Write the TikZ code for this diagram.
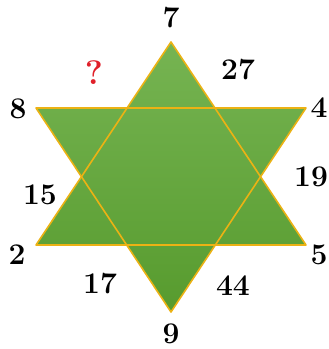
\documentclass[tikz,border=0pt]{standalone}
\usepackage{tikz}
\definecolor{leaftop}{HTML}{76B452}
\definecolor{leafbot}{HTML}{579B2E}
\definecolor{gold}{HTML}{ECB214}
\definecolor{qred}{HTML}{E0202A}
\tikzset{num/.style={font=\fontsize{30}{30}\selectfont\bfseries},
  qmark/.style={font=\fontsize{34}{34}\selectfont\bfseries,text=qred}}
\begin{document}
\begin{tikzpicture}[x=1pt,y=1pt]
  \useasboundingbox (0,0) rectangle (329,349);
  % vertices of the two triangles
  \coordinate (up) at (171,307);
  \coordinate (bl) at (36,104);
  \coordinate (br) at (306,104);
  \coordinate (tl) at (36,241);
  \coordinate (tr) at (306,241);
  \coordinate (dn) at (171,37);
  \shade[top color=leaftop,bottom color=leafbot]
    (up)--(br)--(bl)--cycle (tl)--(tr)--(dn)--cycle;
  \draw[gold,line width=1.6pt,line join=round] (up)--(br)--(bl)--cycle;
  \draw[gold,line width=1.6pt,line join=round] (tl)--(tr)--(dn)--cycle;
  % numbers round the star
  \node[num] (n7) at (171,331) {7};
  \node[num] (n27) at (238,279) {27};
  \node[qmark] (nq) at (94,276) {?};
  \node[num] (n8) at (18,240) {8};
  \node[num] (n4) at (319,241) {4};
  \node[num] (n19) at (311,172) {19};
  \node[num] (n15) at (40,154) {15};
  \node[num] (n2) at (17,94) {2};
  \node[num] (n5) at (319,94) {5};
  \node[num] (n17) at (100,65) {17};
  \node[num] (n44) at (233,63) {44};
  \node[num] (n9) at (171,15) {9};
\end{tikzpicture}
\end{document}
